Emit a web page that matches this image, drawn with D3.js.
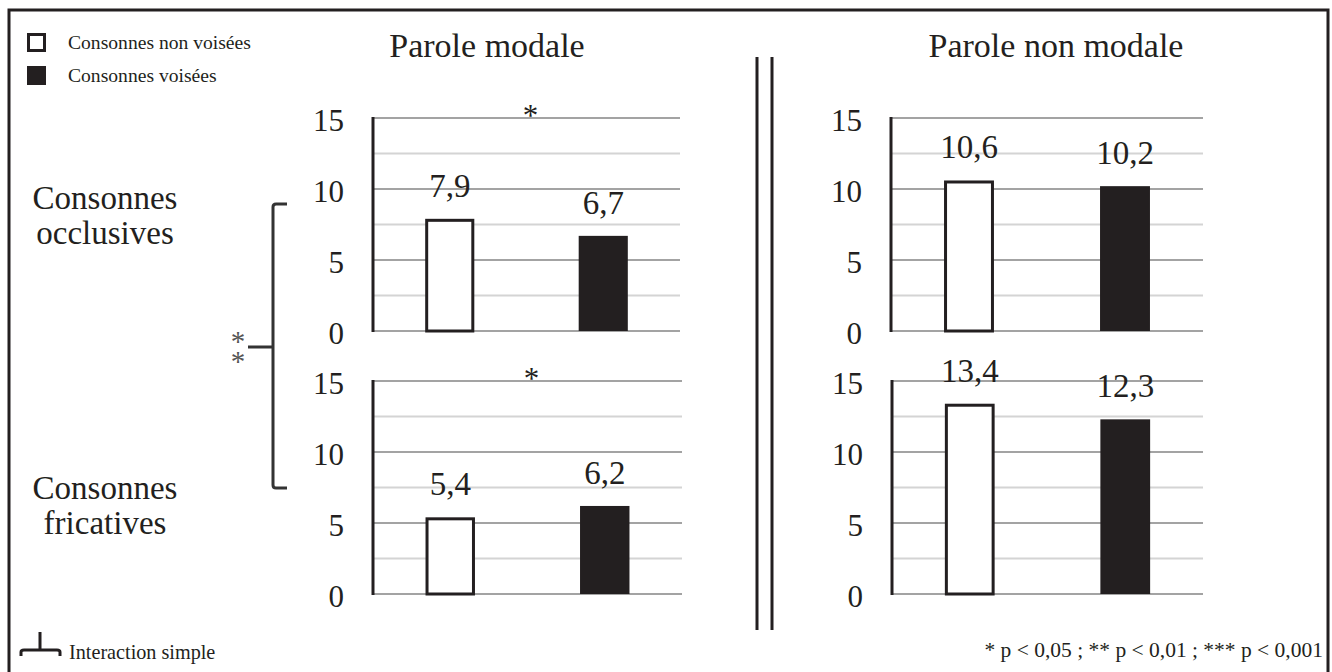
<!DOCTYPE html>
<html>
<head>
<meta charset="utf-8">
<script src="https://cdn.jsdelivr.net/npm/d3@7"></script>
<style>
  body { margin: 0; background: #fff; }
</style>
</head>
<body>
<script>
var categories = ["Consonnes non voisées", "Consonnes voisées"];
var modalOcclusives = [7.9, 6.7];
var nonModalOcclusives = [10.6, 10.2];
var modalFricatives = [5.4, 6.2];
var nonModalFricatives = [13.4, 12.3];
var majorTicks = [0, 5, 10, 15];
var minorTicks = [2.5, 7.5, 12.5];
var columnTitles = ["Parole modale", "Parole non modale"];
var rowTitles = [["Consonnes", "occlusives"], ["Consonnes", "fricatives"]];
var panelStars = ["*", "", "*", ""];
var footnote = "* p < 0,05 ; ** p < 0,01 ; *** p < 0,001";

function main(){
    var width = 1332, height = 672;
    var ink = "#231f20";
    var fr = d3.formatLocale({decimal: ",", thousands: " ", grouping: [3], currency: ["", ""]}).format(".1f");

    var svg = d3.select("body").append("svg")
        .attr("width", width)
        .attr("height", height)
        .style("font-family", "'Liberation Serif', 'Times New Roman', Times, serif")
        .attr("fill", ink);

    // frame
    svg.append("rect")
        .attr("x", 9).attr("y", 10)
        .attr("width", 1319).attr("height", 700)
        .attr("fill", "none").attr("stroke", ink).attr("stroke-width", 3);

    var panels = [
        {data: modalOcclusives, x: 373, y: 118, w: 307, star: panelStars[0]},
        {data: nonModalOcclusives, x: 891, y: 118, w: 312, star: panelStars[1]},
        {data: modalFricatives, x: 373, y: 381, w: 309, star: panelStars[2]},
        {data: nonModalFricatives, x: 892, y: 381, w: 311, star: panelStars[3]}
    ];
    var panelH = 213;

    panels.forEach(function(p){
        var g = svg.append("g").attr("transform", "translate(" + p.x + "," + p.y + ")");
        var yScale = d3.scaleLinear().domain([0, 15]).range([panelH, 0]);
        var xScale = d3.scaleBand().domain(categories).range([0, p.w])
            .paddingInner(0.68).paddingOuter(0.34);

        g.selectAll(".minor").data(minorTicks).enter().append("line")
            .attr("x1", 0).attr("x2", p.w)
            .attr("y1", yScale).attr("y2", yScale)
            .attr("stroke", "#d4d4d4").attr("stroke-width", 2);
        g.selectAll(".major").data(majorTicks).enter().append("line")
            .attr("x1", 0).attr("x2", p.w)
            .attr("y1", yScale).attr("y2", yScale)
            .attr("stroke", "#a3a3a3").attr("stroke-width", 2);

        // y axis line + tick labels
        g.append("line")
            .attr("x1", 0).attr("x2", 0)
            .attr("y1", yScale(15) - 1).attr("y2", yScale(0) + 1)
            .attr("stroke", ink).attr("stroke-width", 3);
        g.selectAll(".tick").data(majorTicks).enter().append("text")
            .attr("x", -29)
            .attr("y", function(d){ return yScale(d) + 13; })
            .attr("text-anchor", "end")
            .attr("font-size", 31)
            .text(function(d){ return d; });

        var bar = g.selectAll(".bar").data(p.data).enter().append("g");
        bar.append("rect")
            .attr("x", function(d, i){ return xScale(categories[i]) + (i == 0 ? 1.5 : 0); })
            .attr("y", function(d, i){ return yScale(d) + (i == 0 ? 1.5 : 0); })
            .attr("width", function(d, i){ return xScale.bandwidth() - (i == 0 ? 3 : 0); })
            .attr("height", function(d, i){ return panelH - yScale(d) - (i == 0 ? 1.5 : 0); })
            .attr("fill", function(d, i){ return i == 0 ? "#fff" : ink; })
            .attr("stroke", ink)
            .attr("stroke-width", function(d, i){ return i == 0 ? 3 : 0; });
        bar.append("text")
            .attr("x", function(d, i){ return xScale(categories[i]) + xScale.bandwidth() / 2; })
            .attr("y", function(d){ return yScale(d) - 22; })
            .attr("text-anchor", "middle")
            .attr("font-size", 33)
            .text(function(d){ return fr(d); });

        if (p.star) {
            g.append("text")
                .attr("x", p.w / 2 + 4)
                .attr("y", 8)
                .attr("text-anchor", "middle")
                .attr("font-size", 31)
                .text(p.star);
        }
    });

    // column titles
    svg.selectAll(".coltitle").data(columnTitles).enter().append("text")
        .attr("x", function(d, i){ return i == 0 ? 487 : 1056; })
        .attr("y", 57)
        .attr("text-anchor", "middle")
        .attr("font-size", 34)
        .text(function(d){ return d; });

    // row titles
    rowTitles.forEach(function(r, k){
        var t = svg.append("text")
            .attr("x", 105)
            .attr("y", k == 0 ? 209 : 499)
            .attr("text-anchor", "middle")
            .attr("font-size", 33);
        t.append("tspan").attr("x", 105).text(r[0]);
        t.append("tspan").attr("x", 105).attr("dy", 35).text(r[1]);
    });

    // double separator
    svg.selectAll(".sep").data([757, 772]).enter().append("line")
        .attr("x1", function(d){ return d; }).attr("x2", function(d){ return d; })
        .attr("y1", 57).attr("y2", 630)
        .attr("stroke", ink).attr("stroke-width", 3);

    // interaction bracket between the two rows
    svg.append("path")
        .attr("d", "M287,204 L276,204 Q273,204 273,207 L273,485 Q273,488 276,488 L287,488 M248,347 L273,347")
        .attr("fill", "none").attr("stroke", "#333").attr("stroke-width", 3);
    // stacked "**" as one vertical text
    svg.append("text")
        .attr("x", 238).attr("y", 325)
        .attr("font-size", 29)
        .attr("fill", "#555")
        .style("writing-mode", "vertical-rl")
        .style("text-orientation", "upright")
        .style("letter-spacing", "-12px")
        .text("**");

    // legend
    var legend = svg.selectAll(".legend").data(categories).enter().append("g")
        .attr("transform", function(d, i){ return "translate(27," + (33 + i * 33) + ")"; });
    legend.append("rect")
        .attr("x", function(d, i){ return i == 0 ? 1.5 : 0; })
        .attr("y", function(d, i){ return i == 0 ? 1.5 : 0; })
        .attr("width", function(d, i){ return i == 0 ? 16 : 19; })
        .attr("height", function(d, i){ return i == 0 ? 16 : 19; })
        .attr("fill", function(d, i){ return i == 0 ? "#fff" : ink; })
        .attr("stroke", ink)
        .attr("stroke-width", function(d, i){ return i == 0 ? 3 : 0; });
    legend.append("text")
        .attr("x", 41).attr("y", 16)
        .attr("font-size", 19.6)
        .text(function(d){ return d; });

    // interaction key
    svg.append("path")
        .attr("d", "M21,656 L21,652 Q21,650 24,650 L57,650 Q60,650 60,652 L60,656 M40,632 L40,650")
        .attr("fill", "none").attr("stroke", ink).attr("stroke-width", 3);
    svg.append("text")
        .attr("x", 69).attr("y", 659)
        .attr("font-size", 20.2)
        .text("Interaction simple");

    svg.append("text")
        .attr("x", 1323).attr("y", 657)
        .attr("text-anchor", "end")
        .attr("font-size", 21.5)
        .text(footnote);
}
main();
</script>
</body>
</html>
